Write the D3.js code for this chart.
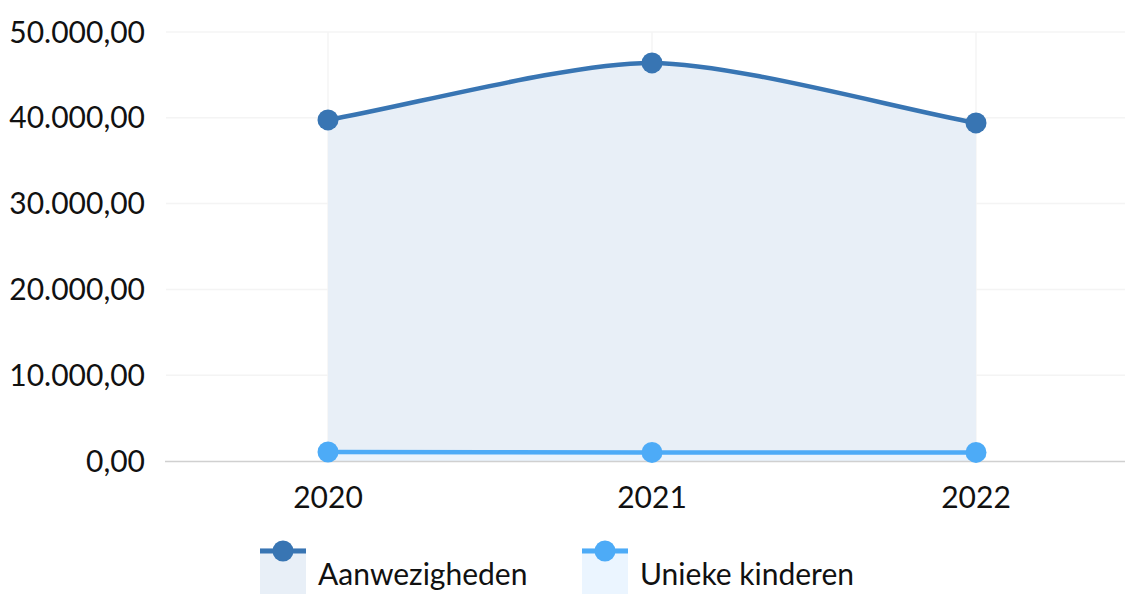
<!DOCTYPE html>
<html>
<head>
<meta charset="utf-8">
<script src="https://cdn.jsdelivr.net/npm/d3@7"></script>
<style>
  body { margin: 0; background: #fff; }
  text { font-family: Lato, "Open Sans", sans-serif; fill: #111; }
</style>
</head>
<body>
<div id="chart"></div>
<script>
// data
var years = ["2020", "2021", "2022"];
var aanwezigheden = [39750, 46400, 39400];
var uniekeKinderen = [1050, 1000, 1000];
var yTicks = [0, 10000, 20000, 30000, 40000, 50000];
var seriesNames = ["Aanwezigheden", "Unieke kinderen"];

var colors = ["#3875b3", "#4dabf7"];
var fills = ["#e8eff7", "#ebf5ff"];

var width = 1125, height = 594;
var margin = {top: 32, left: 166, bottom: 133};
var plotRight = 1138;
var fontSize = "30px";

var svg = d3.select("#chart").append("svg")
    .attr("width", width)
    .attr("height", height);

var x = d3.scalePoint()
    .domain(years)
    .range([margin.left, plotRight])
    .padding(0.5);

var y = d3.scaleLinear()
    .domain([0, 50000])
    .range([height - margin.bottom, margin.top]);

var nf = d3.formatLocale({decimal: ",", thousands: ".", grouping: [3], currency: ["€", ""]}).format(",.2f");

// smooth spline through the points, built with d3.path
function splinePath(s, closeToBase) {
    var pts = s.map(function(d, i) { return [x(years[i]), y(d)]; });
    var t = 0.25, ctrl = [];
    pts.forEach(function(p, i) {
        var prev = pts[i - 1] || p, next = pts[i + 1] || p;
        var d01 = Math.hypot(p[0] - prev[0], p[1] - prev[1]);
        var d12 = Math.hypot(next[0] - p[0], next[1] - p[1]);
        var s01 = d01 / (d01 + d12), s12 = d12 / (d01 + d12);
        if (isNaN(s01)) s01 = 0;
        if (isNaN(s12)) s12 = 0;
        var fa = t * s01, fb = t * s12;
        ctrl.push({
            prev: [p[0] - fa * (next[0] - prev[0]), p[1] - fa * (next[1] - prev[1])],
            next: [p[0] + fb * (next[0] - prev[0]), p[1] + fb * (next[1] - prev[1])]
        });
    });
    var path = d3.path();
    path.moveTo(pts[0][0], pts[0][1]);
    for (var i = 1; i < pts.length; i++) {
        path.bezierCurveTo(ctrl[i - 1].next[0], ctrl[i - 1].next[1],
            ctrl[i].prev[0], ctrl[i].prev[1], pts[i][0], pts[i][1]);
    }
    if (closeToBase) {
        path.lineTo(pts[pts.length - 1][0], y(0));
        path.lineTo(pts[0][0], y(0));
        path.closePath();
    }
    return path.toString();
}

// horizontal grid
svg.append("g").selectAll("line")
    .data(yTicks.filter(function(d) { return d > 0; }))
    .enter().append("line")
    .attr("x1", margin.left).attr("x2", width)
    .attr("y1", function(d) { return y(d); })
    .attr("y2", function(d) { return y(d); })
    .attr("stroke", "#f4f4f4")
    .attr("stroke-width", 1.5);

// vertical grid
svg.append("g").selectAll("line")
    .data(years)
    .enter().append("line")
    .attr("x1", function(d) { return x(d); })
    .attr("x2", function(d) { return x(d); })
    .attr("y1", margin.top).attr("y2", y(0))
    .attr("stroke", "#f4f4f4")
    .attr("stroke-width", 1.5);

// y labels
svg.append("g").selectAll("text")
    .data(yTicks)
    .enter().append("text")
    .attr("x", 145)
    .attr("y", function(d) { return y(d); })
    .attr("dy", "0.35em")
    .attr("text-anchor", "end")
    .style("font-size", fontSize)
    .text(function(d) { return nf(d); });

// x labels
svg.append("g").selectAll("text")
    .data(years)
    .enter().append("text")
    .attr("x", function(d) { return x(d); })
    .attr("y", 497)
    .attr("dy", "0.35em")
    .attr("text-anchor", "middle")
    .style("font-size", fontSize)
    .text(function(d) { return d; });

var all = [aanwezigheden, uniekeKinderen];

// areas
all.forEach(function(s, k) {
    svg.append("path")
        .attr("d", splinePath(s, true))
        .attr("fill", fills[k])
        .attr("opacity", k == 0 ? 1 : 0.6);
});

// axis line
svg.append("line")
    .attr("x1", margin.left - 1).attr("x2", width)
    .attr("y1", y(0) + 0.5).attr("y2", y(0) + 0.5)
    .attr("stroke", "#d0d0d0")
    .attr("stroke-width", 1.5);

// lines + points
all.forEach(function(s, k) {
    svg.append("path")
        .attr("d", splinePath(s, false))
        .attr("fill", "none")
        .attr("stroke", colors[k])
        .attr("stroke-width", 4.5);
    svg.append("g").selectAll("circle")
        .data(s)
        .enter().append("circle")
        .attr("cx", function(d, i) { return x(years[i]); })
        .attr("cy", function(d) { return y(d); })
        .attr("r", 10.5)
        .attr("fill", colors[k]);
});

// legend
var legX = [260, 582];
var leg = svg.append("g").selectAll("g")
    .data(seriesNames)
    .enter().append("g")
    .attr("transform", function(d, i) { return "translate(" + legX[i] + ",548)"; });

leg.append("rect")
    .attr("width", 46).attr("height", 46)
    .attr("fill", function(d, i) { return fills[i]; });
leg.append("line")
    .attr("x1", 0).attr("x2", 46)
    .attr("y1", 3).attr("y2", 3)
    .attr("stroke", function(d, i) { return colors[i]; })
    .attr("stroke-width", 5);
leg.append("circle")
    .attr("cx", 23).attr("cy", 3).attr("r", 10.5)
    .attr("fill", function(d, i) { return colors[i]; });
leg.append("text")
    .attr("x", 58).attr("y", 26)
    .attr("dy", "0.35em")
    .style("font-size", fontSize)
    .text(function(d) { return d; });
</script>
</body>
</html>
